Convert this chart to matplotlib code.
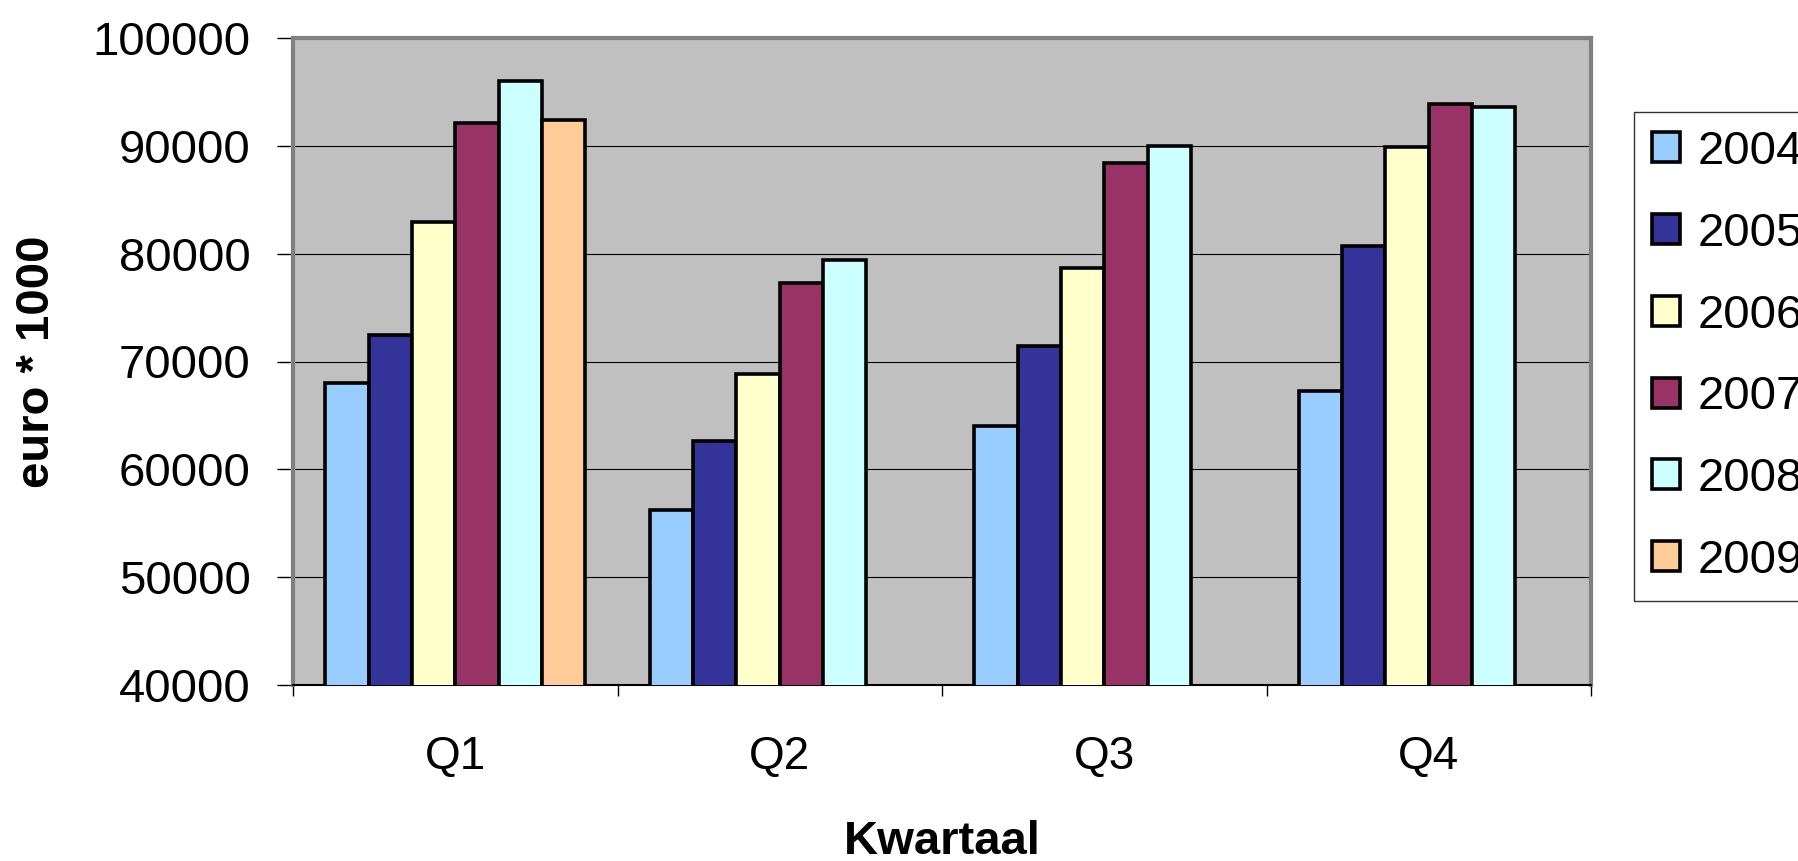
import matplotlib
matplotlib.use("Agg")
import matplotlib.pyplot as plt
from matplotlib.ticker import FixedLocator
import numpy as np

plt.rcParams["font.family"] = ["Liberation Sans", "DejaVu Sans"]

# ── Data ─────────────────────────────────────────────────────────────────────
quarters = ["Q1", "Q2", "Q3", "Q4"]
years    = ["2004", "2005", "2006", "2007", "2008", "2009"]

y2004 = [68000, 56200, 64000, 67300]
y2005 = [72500, 62600, 71400, 80700]
y2006 = [82900, 68800, 78700, 89900]
y2007 = [92100, 77300, 88400, 93900]
y2008 = [96000, 79400, 90000, 93600]
y2009 = [92400, np.nan, np.nan, np.nan]

series = [y2004, y2005, y2006, y2007, y2008, y2009]
colors = ["#99CCFF", "#333399", "#FFFFCC", "#993366", "#CCFFFF", "#FFCC99"]

# ── Figure ───────────────────────────────────────────────────────────────────
W, H = 1798, 861
fig = plt.figure(figsize=(W / 100, H / 100), dpi=100)
ax = fig.add_axes([293 / W, 1 - 685 / H, (1591 - 293) / W, (685 - 38) / H])
ax.set_facecolor("#C0C0C0")

x = np.arange(len(quarters))
n = len(series)
bw = 1.0 / (n + 1.5)          # Excel gap width 150 %
for i, (vals, col, lab) in enumerate(zip(series, colors, years)):
    pos = x - 0.5 + 0.75 * bw + (i + 0.5) * bw
    ax.bar(pos, vals, width=bw, color=col, edgecolor="black",
           linewidth=2.6, label=lab, zorder=3)

ax.set_xlim(-0.5, len(quarters) - 0.5)
ax.set_ylim(40000, 100000)
ax.set_yticks(np.arange(40000, 100001, 10000))
ax.yaxis.grid(True, color="black", linewidth=0.8, zorder=0)
ax.set_axisbelow(True)

ax.set_xticks(x)
ax.set_xticklabels(quarters)
ax.xaxis.set_minor_locator(FixedLocator(np.arange(-0.5, len(quarters), 1.0)))
ax.tick_params(axis="x", which="major", length=0, pad=36, labelsize=33)
ax.tick_params(axis="x", which="minor", length=8, width=1, color="black")
ax.tick_params(axis="y", length=11.5, width=1, color="black", pad=19,
               labelsize=34)

for side in ["top", "right", "left"]:
    ax.spines[side].set_color("#808080")
    ax.spines[side].set_linewidth(3)
ax.spines["bottom"].set_color("black")
ax.spines["bottom"].set_linewidth(1.5)

ax.set_ylabel("euro * 1000", fontsize=34, fontweight="bold", va="center")
ax.yaxis.set_label_coords((37 - 293) / (1591 - 293), 0.5)
ax.set_xlabel("Kwartaal", fontsize=34, fontweight="bold", va="center")
ax.xaxis.set_label_coords(0.5, (685 - 842) / (685 - 38))

# legend box runs past the right edge, as in the original
leg = ax.legend(loc="upper left", bbox_to_anchor=(1634 / W, 1 - 112 / H),
                bbox_transform=fig.transFigure, fontsize=34, frameon=True,
                fancybox=False, borderaxespad=0, borderpad=0.38,
                handlelength=0.6, handleheight=0.6, handletextpad=0.36,
                labelspacing=0.8)
leg.get_frame().set_edgecolor("black")
leg.get_frame().set_linewidth(1)

fig.savefig("out.png", dpi=100)
